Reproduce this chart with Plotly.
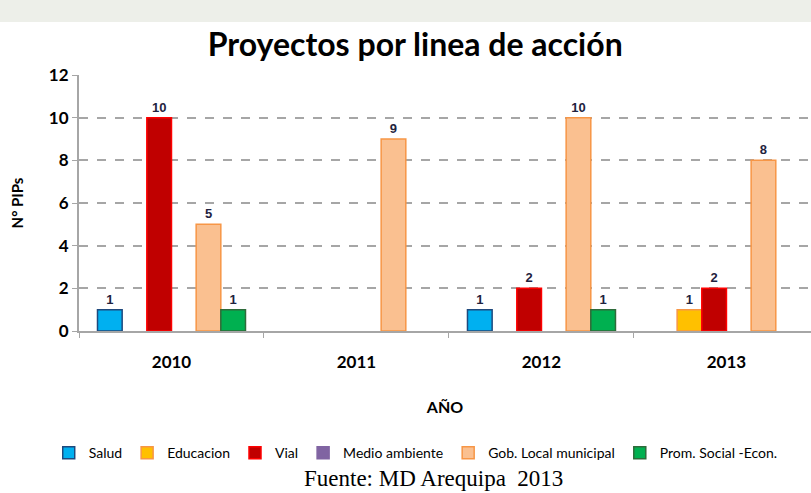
import plotly.graph_objects as go

years = ["2010", "2011", "2012", "2013"]
series_names = ["Salud", "Educacion", "Vial", "Medio ambiente", "Gob. Local municipal", "Prom. Social -Econ."]
salud = [1, 0, 1, 0]
educacion = [0, 0, 0, 1]
vial = [10, 0, 2, 2]
medio_ambiente = [0, 0, 0, 0]
gob_local = [5, 9, 10, 8]
prom_social = [1, 0, 1, 0]
y_ticks = [0, 2, 4, 6, 8, 10, 12]

values = [salud, educacion, vial, medio_ambiente, gob_local, prom_social]
fills = ["#00B0F0", "#FFC000", "#C00000", "#8064A2", "#FAC090", "#00B050"]
borders = ["#1F497D", "#F79646", "#FF0000", "#8064A2", "#F79646", "#2E6B3A"]

xpos = list(range(len(years)))
fig = go.Figure()
for name, vals, fc, bc in zip(series_names, values, fills, borders):
    fig.add_trace(go.Bar(
        x=xpos, y=[v if v else None for v in vals], name=name,
        marker=dict(color=fc, line=dict(color=bc, width=1.5)),
        text=["<b>%d</b>" % v if v else "" for v in vals],
        textposition="outside",
        textfont=dict(family="Liberation Sans", size=13, color="#1F2340"),
        cliponaxis=False,
    ))

fig.update_layout(
    width=811, height=493,
    margin=dict(l=79, r=0, t=75, b=162, autoexpand=False),
    paper_bgcolor="white", plot_bgcolor="white",
    barmode="group", bargap=0.2, bargroupgap=0,
    font=dict(family="Lato", color="black"),
    title=dict(text="<b>Proyectos por linea de acción</b>", x=0.512, xanchor="center",
               y=1 - 45 / 493, yanchor="middle", font=dict(family="Lato", size=32, color="black")),
    legend=dict(orientation="h", x=0.46, xanchor="center", y=-0.477, yanchor="middle",
                font=dict(family="Lato", size=14, color="black"),
                itemwidth=30, traceorder="normal", tracegroupgap=0),
    showlegend=True,
)
fig.update_xaxes(
    range=[-0.5, 3.457],
    tickvals=xpos, ticktext=["<b>%s</b>" % y for y in years],
    ticks="", tickfont=dict(family="Lato", size=17, color="black"),
    ticklabelstandoff=15,
    showline=True, linecolor="#A6A6A6", linewidth=2,
    showgrid=False, zeroline=False, automargin=False,
    minor=dict(tick0=0.5, dtick=1, ticks="outside", ticklen=5, tickcolor="#A6A6A6", showgrid=False),
    title=dict(text="<b>AÑO</b>", font=dict(family="Lato", size=16, color="black"), standoff=30),
)
fig.update_yaxes(
    range=[0, 12], tickvals=y_ticks, ticktext=["<b>%d</b>" % v for v in y_ticks],
    tickfont=dict(family="Lato", size=17, color="black"),
    ticks="outside", ticklen=5, tickcolor="#A6A6A6",
    showline=True, linecolor="#A6A6A6", linewidth=2,
    showgrid=True, gridcolor="#A6A6A6", griddash="dash", gridwidth=1.5,
    zeroline=False, automargin=False,
    title=dict(text="<b>N° PIPs</b>", font=dict(family="Lato", size=15, color="black"), standoff=22),
)
# faint watermark strip at top
fig.add_shape(type="rect", xref="paper", yref="paper", x0=-0.2, x1=1.0,
              y0=(331 - 0) / 256, y1=(331 - 22) / 256, fillcolor="#EDEFE9",
              line=dict(width=0), layer="below")
fig.add_annotation(text="Fuente: MD Arequipa\u00a0\u00a02013", xref="paper", yref="paper",
                   x=(433 - 79) / 732, y=(331 - 478) / 256, xanchor="center", yanchor="middle",
                   showarrow=False, font=dict(family="Liberation Serif", size=23, color="black"))
fig.write_html("out.html", config={"displayModeBar": False},
               post_script="document.body.style.margin='0';document.body.style.overflow='hidden';")
